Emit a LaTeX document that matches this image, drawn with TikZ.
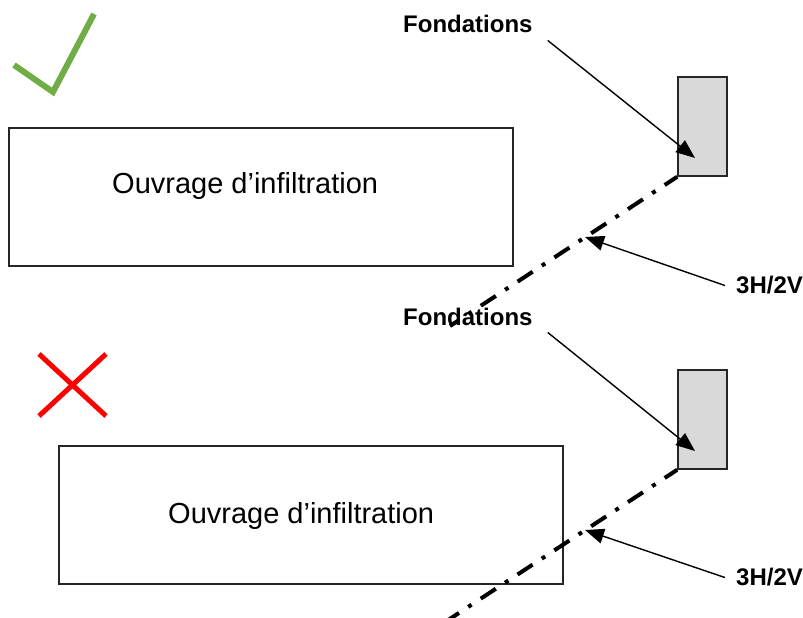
\documentclass[tikz,border=0pt]{standalone}
\usepackage{fontspec}
\setmainfont{Liberation Sans}
\usetikzlibrary{arrows.meta}

\definecolor{haken}{HTML}{70AD47}
\definecolor{kreuz}{HTML}{FF0000}
\definecolor{fundament}{HTML}{D9D9D9}

\tikzset{
  ouvrage/.style={draw=black!85, line width=1.5pt, fill=white, inner sep=0pt,
    minimum width=504pt, minimum height=138pt},
  fondation/.style={draw=black!85, line width=1.5pt, fill=fundament, inner sep=0pt,
    minimum width=49pt, minimum height=99pt},
  titel/.style={inner sep=0pt, font=\fontsize{29}{34}\selectfont},
  beschriftung/.style={inner sep=0pt, font=\bfseries\fontsize{24}{28}\selectfont},
  pfeil/.style={line width=1.4pt, -{Triangle[length=19pt,width=15pt]}},
  boeschung/.style={line width=4pt, dash pattern=on 18pt off 11pt on 4pt off 11pt, dash phase=3pt},
}

\begin{document}
\begin{tikzpicture}[x=1pt, y=-1pt]
  \clip (0,0) rectangle (803,618);

  % Oben: richtig
  \draw[haken, line width=6pt] (14,65) -- (53,92) -- (94,14); % Haken

  \node[ouvrage] (ouvrageA) at (261,197) {};
  \node[titel, anchor=base west] (texteA) at (112,193) {Ouvrage d’infiltration};
  \node[fondation] (fondA) at (702.5,126.5) {};

  % Boeschungslinie 3H/2V
  \coordinate (endeA) at (450,326);
  \draw[boeschung] (fondA.south west) -- (endeA);

  % Beschriftungen und Pfeile
  \node[beschriftung, anchor=base west] (labelFondA) at (403,33) {Fondations};
  \node[beschriftung, anchor=base west] (labelPenteA) at (736,293) {3H/2V};
  \coordinate (spitzeFondA) at (695,158);
  \coordinate (spitzePenteA) at (585,237);
  \draw[pfeil] ([xshift=15pt, yshift=-7pt]labelFondA.south east) -- (spitzeFondA);
  \draw[pfeil] ([xshift=-11pt, yshift=-1pt]labelPenteA.west) -- (spitzePenteA);

  % Unten: falsch
  \draw[kreuz, line width=5pt] (39,354) -- (106,416) (106,354) -- (39,416); % Kreuz

  \node[ouvrage] (ouvrageB) at (311,515) {};
  \node[titel, anchor=base west] (texteB) at (168,523) {Ouvrage d’infiltration};
  \node[fondation] (fondB) at (702.5,419.5) {};

  % Boeschungslinie 3H/2V
  \coordinate (endeB) at (436,628);
  \draw[boeschung] (fondB.south west) -- (endeB);

  % Beschriftungen und Pfeile
  \node[beschriftung, anchor=base west] (labelFondB) at (403,325) {Fondations};
  \node[beschriftung, anchor=base west] (labelPenteB) at (736,585) {3H/2V};
  \coordinate (spitzeFondB) at (695,451);
  \coordinate (spitzePenteB) at (585,530);
  \draw[pfeil] ([xshift=15pt, yshift=-7pt]labelFondB.south east) -- (spitzeFondB);
  \draw[pfeil] ([xshift=-11pt, yshift=-1pt]labelPenteB.west) -- (spitzePenteB);

\end{tikzpicture}
\end{document}
